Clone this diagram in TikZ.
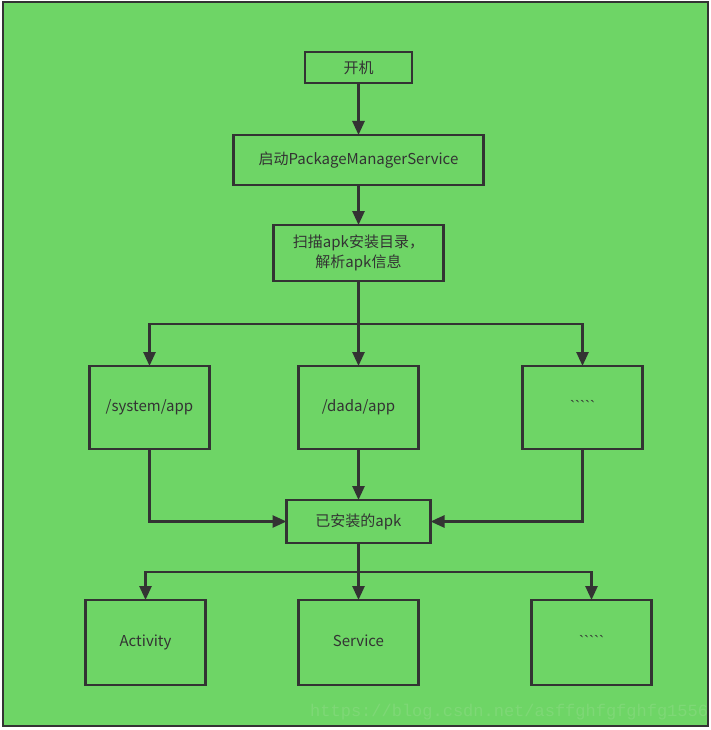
\documentclass[tikz,border=0pt]{standalone}
\usepackage{fontspec}
\newfontfamily\cjkfont{Noto Sans CJK SC}
\newfontfamily\tickfont{Liberation Sans}
\newfontfamily\wmfont{Liberation Mono}
\usepackage{tikz}
\usetikzlibrary{positioning,arrows.meta}
\definecolor{boxgreen}{RGB}{110,213,102}
\definecolor{linegray}{RGB}{51,51,51}
\definecolor{markgreen}{RGB}{126,216,118}
\tikzstyle{stepbox}=[draw=linegray,line width=2.6pt,inner sep=0pt,outer sep=0pt,align=center,text=linegray]
\tikzstyle{bigbox}=[stepbox,minimum width=120pt,minimum height=84pt,text height=11pt,text depth=4pt]
\tikzstyle{flow}=[draw=linegray,line width=2.6pt,-{Triangle[length=14pt,width=12pt]}]
\newcommand{\ticks}{{\tickfont `````}}

\begin{document}
\begin{tikzpicture}[x=1pt,y=-1pt,font=\cjkfont\fontsize{15}{20}\selectfont]
\useasboundingbox (0,0) rectangle (711,730);
\draw[linegray,line width=2pt,fill=boxgreen] (3,2) rectangle (708,726);

% main column
\node [stepbox,minimum width=107pt,minimum height=31pt] (boot) at (358.5,67.5) {开机};
\node [stepbox,minimum width=250pt,minimum height=50pt] [below=52pt of boot] (pms) {启动PackageManagerService};
\node [stepbox,minimum width=170pt,minimum height=56pt] [below=40pt of pms] (scan) {扫描apk安装目录，\\解析apk信息};

% directories
\node [bigbox,minimum height=83pt] [below=85pt of scan] (dada) {/dada/app};
\node [bigbox,minimum height=83pt] [left=89pt of dada] (sysapp) {/system/app};
\node [bigbox,minimum height=83pt] [right=104pt of dada] (moredir) {\ticks};

\node [stepbox,minimum width=144pt,minimum height=43pt] [below=51pt of dada] (installed) {已安装的apk};

% components
\node [bigbox,minimum height=85pt] [below=57pt of installed] (service) {Service};
\node [bigbox,minimum height=85pt] [left=93pt of service] (activity) {Activity};
\node [bigbox,minimum height=85pt] [right=113pt of service] (morecomp) {\ticks};

\draw [flow] (boot) -- (pms);
\draw [flow] (pms) -- (scan);
\draw [flow] (scan) -- (dada);
\draw [flow] (scan.south) -- ++(0,43) -| (sysapp.north);
\draw [flow] (scan.south) -- ++(0,43) -| (moredir.north);

\draw [flow] (dada) -- (installed);
\draw [flow] (sysapp.south) |- (installed.west);
\draw [flow] (moredir.south) |- (installed.east);

\draw [flow] (installed) -- (service);
\draw [flow] (installed.south) -- ++(0,29) -| (activity.north);
\draw [flow] (installed.south) -- ++(0,29) -| (morecomp.north);

\node [font=\wmfont\fontsize{17}{17}\selectfont,text=markgreen,anchor=base west,inner sep=0pt] (mark) at (310,716) {https://blog.csdn.net/asffghfgfghfg1556};
\end{tikzpicture}
\end{document}
